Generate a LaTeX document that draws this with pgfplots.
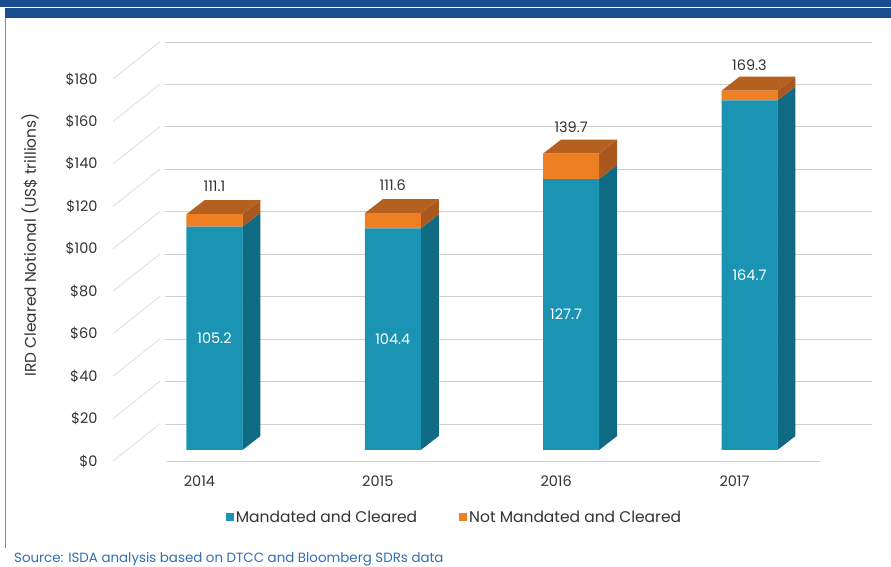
\documentclass[border=0pt]{standalone}
\usepackage{fontspec}
\setmainfont{Poppins}
\usepackage{pgfplots}
\pgfplotsset{compat=1.18}
\definecolor{teal1}{HTML}{1B94B3}
\definecolor{teal2}{HTML}{0F6A84}
\definecolor{org1}{HTML}{EE7F22}
\definecolor{org2}{HTML}{A9581F}
\definecolor{org3}{HTML}{B5601F}
\definecolor{band}{HTML}{1A4C90}
\definecolor{srcblue}{HTML}{2F6FB3}
\definecolor{frameblue}{HTML}{6A8FC0}
\definecolor{txt}{HTML}{333333}
\definecolor{wall}{HTML}{CFCFCF}
\pgfplotsset{base/.style={
  scale only axis, width=891bp, height=567bp,
  xmin=2012.7972, xmax=2017.7936,
  axis line style={draw=none}, tick style={draw=none},
  xtick=\empty, ytick=\empty, clip=false,
  /pgf/number format/assume math mode=true,
  font=\fontsize{14.5bp}{16bp}\selectfont,
}}
\begin{document}
\begin{tikzpicture}[x=1bp,y=1bp]
\path[use as bounding box] (0,0) rectangle (891,567);
\fill[white] (0,0) rectangle (891,567);
\fill[band] (0,559.5) rectangle (891,567);
\fill[band] (5,549) rectangle (891,558.5);
\fill[frameblue] (4.5,19) rectangle (6,549);

% back wall: gridlines at their own values
\begin{axis}[base, ymin=-67.39, ymax=199.81]
\pgfplotsinvokeforeach{0,20,40,60,80,100,120,140,160,180}{
  \addplot[wall, line width=0.9bp] coordinates {(2013.7224,#1) (2017.687,#1)};
}
\end{axis}

% front plane: tick labels, floor edge, slanted side wall lines
\begin{axis}[base, ymin=-49.95, ymax=217.25,
  ytick={0,20,40,60,80,100,120,140,160,180},
  yticklabels={\$0,\$20,\$40,\$60,\$80,\$100,\$120,\$140,\$160,\$180},
  yticklabel style={xshift=101bp, text=txt},
  xtick={2014,2015,2016,2017},
  xticklabels={2014,2015,2016,2017},
  xticklabel style={xshift=-15bp, yshift=95bp, text=txt},
]
\pgfplotsinvokeforeach{0,20,40,60,80,100,120,140,160,180}{
  \addplot[black!12, line width=0.9bp] coordinates {(2013.4309,#1) (2013.6944,#1+17.6)};
}
\addplot[wall, line width=0.9bp] coordinates {(2013.7337,0) (2017.3955,0)};
\end{axis}

% depth faces of the bars
\begin{axis}[base, ymin=-55.14, ymax=212.06]
% side, mandated
\addplot[fill=teal2, draw=none] coordinates {(2014.157,0) (2014.2579,6.6) (2014.2579,111.8) (2014.157,105.2)} --cycle;
\addplot[fill=teal2, draw=none] coordinates {(2015.157,0) (2015.2579,6.6) (2015.2579,111.0) (2015.157,104.4)} --cycle;
\addplot[fill=teal2, draw=none] coordinates {(2016.157,0) (2016.2579,6.6) (2016.2579,134.3) (2016.157,127.7)} --cycle;
\addplot[fill=teal2, draw=none] coordinates {(2017.157,0) (2017.2579,6.6) (2017.2579,171.3) (2017.157,164.7)} --cycle;
% side, not mandated
\addplot[fill=org2, draw=none] coordinates {(2014.157,105.2) (2014.2579,111.8) (2014.2579,117.7) (2014.157,111.1)} --cycle;
\addplot[fill=org2, draw=none] coordinates {(2015.157,104.4) (2015.2579,111.0) (2015.2579,118.2) (2015.157,111.6)} --cycle;
\addplot[fill=org2, draw=none] coordinates {(2016.157,127.7) (2016.2579,134.3) (2016.2579,146.3) (2016.157,139.7)} --cycle;
\addplot[fill=org2, draw=none] coordinates {(2017.157,164.7) (2017.2579,171.3) (2017.2579,175.9) (2017.157,169.3)} --cycle;
% top
\addplot[fill=org3, draw=none] coordinates {(2013.843,111.1) (2013.9439,117.7) (2014.2579,117.7) (2014.157,111.1)} --cycle;
\addplot[fill=org3, draw=none] coordinates {(2014.843,111.6) (2014.9439,118.2) (2015.2579,118.2) (2015.157,111.6)} --cycle;
\addplot[fill=org3, draw=none] coordinates {(2015.843,139.7) (2015.9439,146.3) (2016.2579,146.3) (2016.157,139.7)} --cycle;
\addplot[fill=org3, draw=none] coordinates {(2016.843,169.3) (2016.9439,175.9) (2017.2579,175.9) (2017.157,169.3)} --cycle;
\end{axis}

% front faces and legend
\begin{axis}[base, ymin=-55.14, ymax=212.06,
  ybar stacked, bar width=56bp,
  legend style={at={(axis cs:2015.3458,-32)}, anchor=center, draw=none, fill=none,
    legend columns=2, text=txt, font=\fontsize{15.5bp}{17bp}\selectfont,
    /tikz/every even column/.append style={column sep=40bp}, inner sep=0pt},
  legend image code/.code={\fill[#1] (0,-3bp) rectangle (8bp,5bp);},
]
\addplot[fill=teal1, draw=none] coordinates {(2014,105.2) (2015,104.4) (2016,127.7) (2017,164.7)};
\addplot[fill=org1, draw=none] coordinates {(2014,5.9) (2015,7.2) (2016,12.0) (2017,4.6)};
\legend{Mandated and Cleared, Not Mandated and Cleared}
\end{axis}

% value labels, on top of the bars
\begin{axis}[base, ymin=-55.14, ymax=212.06]
\node[text=txt] at (axis cs:2014,111.1) [yshift=28bp] {111.1};
\node[text=txt] at (axis cs:2015,111.6) [yshift=28bp] {111.6};
\node[text=txt] at (axis cs:2016,139.7) [yshift=26bp] {139.7};
\node[text=txt] at (axis cs:2017,169.3) [yshift=26bp] {169.3};
\node[text=white] at (axis cs:2014,52.6) {105.2};
\node[text=white] at (axis cs:2015,52.2) {104.4};
\node[text=white] at (axis cs:2016,63.85) [xshift=-5bp] {127.7};
\node[text=white] at (axis cs:2017,82.35) {164.7};
\end{axis}

\node[rotate=90, text=txt, font=\fontsize{15.4bp}{17bp}\selectfont] at (30,322) {IRD Cleared Notional (US\$ trillions)};
\node[anchor=base west, text=srcblue, font=\fontsize{13.4bp}{15bp}\selectfont, inner sep=0pt] at (14,4) {Source: ISDA analysis based on DTCC and Bloomberg SDRs data};
\end{tikzpicture}
\end{document}
